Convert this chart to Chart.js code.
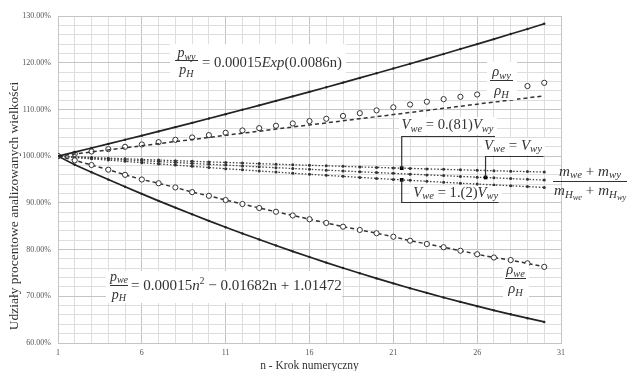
<!DOCTYPE html>
<html><head><meta charset="utf-8">
<script src="https://cdn.jsdelivr.net/npm/chart.js@4/dist/chart.umd.min.js"></script>
<style>html,body{margin:0;padding:0;background:#fff;overflow:hidden}#wrap{position:relative;width:627px;height:371px}canvas{display:block}</style>
</head><body><div id="wrap"><canvas id="c" width="627" height="371" style="width:627px;height:371px"></canvas></div>
<script>
// ---- data ----
const steps = [1,2,3,4,5,6,7,8,9,10,11,12,13,14,15,16,17,18,19,20,21,22,23,24,25,26,27,28,29,30];
const xTickLabels = [1,6,11,16,21,26,31];
const yTickLabels = [60,70,80,90,100,110,120,130];
// p_wy / p_H (solid, upper)
const pWy = [100.00,100.86,101.74,102.61,103.50,104.39,105.30,106.21,107.12,108.05,108.98,109.92,110.87,111.83,112.80,113.77,114.75,115.74,116.74,117.75,118.77,119.79,120.83,121.87,122.93,123.99,125.06,126.14,127.23,128.33];
// p_we / p_H (solid, lower)
const pWe = [100.00,98.17,96.56,94.98,93.44,91.92,90.43,88.98,87.55,86.15,84.79,83.45,82.14,80.86,79.62,78.40,77.21,76.06,74.93,73.83,72.77,71.73,70.72,69.74,68.80,67.88,66.99,66.14,65.31,64.51];
// rho_wy / rho_H (circles) and its dashed line
const rhoWy = [100.0,100.5,101.0,101.5,102.0,102.5,103.0,103.5,104.0,104.5,105.0,105.5,106.0,106.5,107.0,107.5,108.0,108.6,109.2,109.8,110.45,111.05,111.65,112.2,112.7,113.2,113.8,114.4,115.0,115.7];
const rhoWyLine = [100.00,100.45,100.89,101.34,101.78,102.23,102.67,103.12,103.56,104.01,104.45,104.90,105.34,105.79,106.23,106.68,107.12,107.57,108.01,108.46,108.90,109.35,109.79,110.24,110.68,111.13,111.57,112.02,112.46,112.91];
// rho_we / rho_H (dashed with circles)
const rhoWe = [100.0,99.1,98.1,97.1,96.0,95.0,94.2,93.3,92.3,91.5,90.6,89.75,88.9,88.1,87.3,86.5,85.7,84.9,84.2,83.5,82.75,81.9,81.2,80.5,79.75,79.0,78.3,77.75,77.05,76.3];
// (m_we + m_wy)/(m_Hwe + m_Hwy) for three volume ratios
const massA = [100.00,99.86,99.71,99.57,99.44,99.30,99.16,99.03,98.90,98.77,98.65,98.52,98.40,98.28,98.16,98.04,97.93,97.81,97.70,97.59,97.48,97.38,97.27,97.17,97.07,96.97,96.88,96.78,96.69,96.60];
const massB = [100.00,99.80,99.60,99.41,99.21,99.02,98.83,98.64,98.45,98.26,98.08,97.90,97.71,97.53,97.36,97.18,97.00,96.83,96.66,96.49,96.32,96.15,95.99,95.83,95.66,95.50,95.35,95.19,95.03,94.88];
const massC = [100.00,99.71,99.43,99.15,98.88,98.61,98.34,98.08,97.82,97.56,97.31,97.07,96.82,96.59,96.35,96.12,95.89,95.67,95.45,95.23,95.02,94.82,94.61,94.41,94.22,94.03,93.84,93.66,93.48,93.30];
// highlighted points (V_we = 0.(81)V_wy, V_we = 1.(2)V_wy, V_we = V_wy)
const markN = [21.5,21.5,26.5];
const markV = [97.43,94.92,95.43];

const pts = ys => steps.map((n,i)=>({x:n,y:ys[i]}));
const SERIF = '"Liberation Serif", "DejaVu Serif", serif';

function fontFor(style,size){
  const italic = style!=='r' && style!=='rsup';
  let sz=size;
  if(style==='s') sz=size*0.72;
  else if(style==='ss') sz=size*0.56;
  else if(style==='sup'||style==='rsup') sz=size*0.62;
  return (italic?'italic ':'')+sz.toFixed(2)+'px '+SERIF;
}
function dyFor(style,size){
  if(style==='s') return size*0.24;
  if(style==='ss') return size*0.40;
  if(style==='sup'||style==='rsup') return -size*0.33;
  return 0;
}
function mathWidth(ctx,parts,size){
  let w=0;
  for(const [t,st] of parts){ctx.font=fontFor(st,size);w+=ctx.measureText(t).width;}
  return w;
}
function drawMath(ctx,parts,x,y,size,opt){
  opt=opt||{};
  if(opt.width){ size=size*opt.width/mathWidth(ctx,parts,size); }
  const w=mathWidth(ctx,parts,size);
  let cx = opt.align==='center'? x-w/2 : x;
  ctx.textBaseline='middle';ctx.textAlign='left';
  for(const [t,st] of parts){
    ctx.font=fontFor(st,size);
    ctx.fillText(t,cx,y+dyFor(st,size));
    cx+=ctx.measureText(t).width;
  }
  return size;
}
function frac(ctx,num,den,x0,x1,yBar,yNum,yDen,size){
  const cx=(x0+x1)/2;
  drawMath(ctx,num,cx,yNum,size,{align:'center'});
  drawMath(ctx,den,cx,yDen,size,{align:'center'});
  ctx.beginPath();ctx.moveTo(x0,yBar);ctx.lineTo(x1,yBar);ctx.lineWidth=1;ctx.strokeStyle='#333';ctx.stroke();
}
function bg(ctx,x,y,w,h){ctx.fillStyle='#fff';ctx.fillRect(x,y,w,h);ctx.fillStyle='#333';}

const annot = {
  id:'annot',
  afterDatasetsDraw(chart){
    const ctx=chart.ctx, xs=chart.scales.x, ys=chart.scales.y;
    ctx.save();
    ctx.fillStyle='#333';
    // equation p_wy
    bg(ctx,170,44,176,36);
    frac(ctx,[['p','i'],['wy','s']],[['p','i'],['H','s']],175,198,60.5,53.5,70.5,14);
    drawMath(ctx,[['= 0.00015','r'],['Exp','i'],['(0.0086n)','r']],202,63.5,14,{width:140});
    // equation p_we
    bg(ctx,106,271,236,32);
    frac(ctx,[['p','i'],['we','s']],[['p','i'],['H','s']],110,128,285.5,277,295,14);
    drawMath(ctx,[['= 0.00015','r'],['n','i'],['2','rsup'],[' − 0.01682n + 1.01472','r']],131,286.5,14,{width:211});
    // rho_wy
    bg(ctx,487,62,30,38);
    frac(ctx,[['ρ','i'],['wy','s']],[['ρ','i'],['H','s']],490,513,80.5,72.5,91.5,14.5);
    // rho_we
    bg(ctx,503,264,26,34);
    frac(ctx,[['ρ','i'],['we','s']],[['ρ','i'],['H','s']],505,526,278.5,270.5,289.5,14.5);

    const mk = markN.map((n,i)=>({x:xs.getPixelForValue(n),y:ys.getPixelForValue(markV[i])}));
    ctx.strokeStyle='#333';ctx.lineWidth=1.2;
    // V_we = 0.(81)V_wy
    bg(ctx,399,117,98,18);
    drawMath(ctx,[['V','i'],['we','s'],[' = 0.(81)','r'],['V','i'],['wy','s']],447.5,125.5,14,{align:'center',width:92});
    ctx.beginPath();ctx.moveTo(mk[0].x,mk[0].y);ctx.lineTo(mk[0].x,136.5);ctx.lineTo(495,136.5);ctx.stroke();
    // V_we = V_wy
    bg(ctx,482,138,63,17);
    drawMath(ctx,[['V','i'],['we','s'],[' = ','r'],['V','i'],['wy','s']],513,146,14,{align:'center',width:58});
    ctx.beginPath();ctx.moveTo(mk[2].x,mk[2].y);ctx.lineTo(mk[2].x,156.5);ctx.lineTo(543.5,156.5);ctx.stroke();
    // V_we = 1.(2)V_wy
    bg(ctx,410,186,92,15);
    drawMath(ctx,[['V','i'],['we','s'],[' = 1.(2)','r'],['V','i'],['wy','s']],455.8,193,14,{align:'center',width:85});
    ctx.beginPath();ctx.moveTo(mk[1].x,mk[1].y);ctx.lineTo(mk[1].x,202.5);ctx.lineTo(498.5,202.5);ctx.stroke();

    // mass ratio label
    const sz = drawMath(ctx,[['m','i'],['we','s'],[' + ','r'],['m','i'],['wy','s']],559,172,14,{width:62});
    drawMath(ctx,[['m','i'],['H','s'],['we','ss'],[' + ','r'],['m','i'],['H','s'],['wy','ss']],554,191.5,sz);
    ctx.beginPath();ctx.moveTo(553,181.5);ctx.lineTo(627,181.5);ctx.lineWidth=1;ctx.stroke();

    // axis titles
    ctx.fillStyle='#333';
    ctx.font='13.5px '+SERIF;ctx.textAlign='center';ctx.textBaseline='middle';
    ctx.save();ctx.translate(14,206);ctx.rotate(-Math.PI/2);
    ctx.fillText('Udziały procentowe analizowanych wielkości',0,0);ctx.restore();
    ctx.font='11.5px '+SERIF;
    ctx.fillText('n - Krok numeryczny',309.5,366);
    ctx.restore();
  }
};

const solid = {borderColor:'#222',borderWidth:1.7,pointRadius:1.2,pointBackgroundColor:'#222',pointBorderWidth:0,fill:false,tension:0};
const dotted = {borderColor:'#444',borderWidth:1.3,borderDash:[1.5,1.8],pointRadius:1.5,pointBackgroundColor:'#333',pointBorderWidth:0,fill:false};

new Chart(document.getElementById('c'),{
  type:'line',
  data:{datasets:[
    Object.assign({label:'pwy',data:pts(pWy)},solid),
    Object.assign({label:'pwe',data:pts(pWe)},solid),
    {label:'rhowyLine',data:pts(rhoWyLine),borderColor:'#333',borderWidth:1.5,borderDash:[4,3],pointRadius:0,fill:false},
    {label:'rhowy',data:pts(rhoWy),showLine:false,pointRadius:2.6,pointBorderColor:'#333',pointBackgroundColor:'#fff',pointBorderWidth:1},
    {label:'rhowe',data:pts(rhoWe),borderColor:'#333',borderWidth:1.5,borderDash:[4,3],pointRadius:2.6,pointBorderColor:'#333',pointBackgroundColor:'#fff',pointBorderWidth:1,fill:false},
    Object.assign({label:'mA',data:pts(massA)},dotted),
    Object.assign({label:'mB',data:pts(massB)},dotted),
    Object.assign({label:'mC',data:pts(massC)},dotted),
    {label:'marks',data:markN.map((n,i)=>({x:n,y:markV[i]})),showLine:false,pointStyle:'rect',pointRadius:2.6,pointBackgroundColor:'#000',pointBorderColor:'#000',pointBorderWidth:0,order:-1}
  ]},
  options:{
    responsive:false,animation:false,devicePixelRatio:1,
    layout:{padding:{top:16,right:66,bottom:0,left:0}},
    plugins:{legend:{display:false},tooltip:{enabled:false}},
    scales:{
      x:{type:'linear',min:1,max:31,
        afterFit(s){s.height=28;},
        ticks:{stepSize:1,autoSkip:false,maxRotation:0,padding:5,color:'#555',font:{family:SERIF,size:8},
          callback:v=>xTickLabels.includes(v)?String(v):''},
        grid:{drawTicks:false,lineWidth:1,color:c=>(c.tick&&xTickLabels.includes(c.tick.value))?'#c4c4c4':'#dedede'},
        border:{display:true,color:'#c4c4c4'}},
      y:{min:60,max:130,
        afterFit(s){s.width=58;},
        ticks:{stepSize:2,autoSkip:false,padding:7,color:'#555',font:{family:SERIF,size:8},
          callback:v=>yTickLabels.includes(Math.round(v))&&Math.abs(v-Math.round(v))<1e-6?v.toFixed(2)+'%':''},
        grid:{drawTicks:false,lineWidth:1,color:c=>(c.tick&&yTickLabels.includes(Math.round(c.tick.value)))?'#c4c4c4':'#dedede'},
        border:{display:true,color:'#c4c4c4'}}
    }
  },
  plugins:[annot]
});
</script></body></html>
